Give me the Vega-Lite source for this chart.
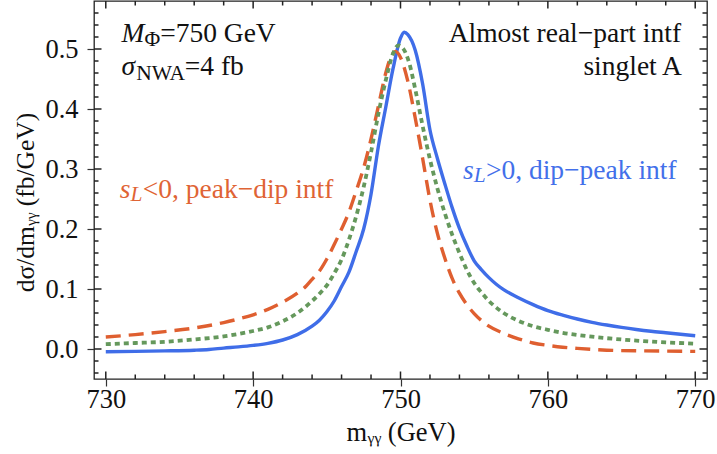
{
  "$schema": "https://vega.github.io/schema/vega-lite/v6.json",
  "width": 613,
  "height": 378,
  "autosize": {"type": "none"},
  "padding": {"left": 94, "top": 1, "right": 10, "bottom": 75},
  "background": "white",
  "config": {
    "view": {"stroke": "#222222", "strokeWidth": 1.3},
    "font": "Liberation Serif",
    "text": {"font": "Liberation Serif"}
  },
  "datasets": {
    "blue": [
      {"m":730,"v":-0.0045},{"m":732,"v":-0.004},{"m":734,"v":-0.0032},{"m":736,"v":-0.002},{"m":737,"v":-0.0008},{"m":738,"v":0.0015},{"m":739,"v":0.0035},{"m":740,"v":0.006},{"m":741,"v":0.0095},{"m":742,"v":0.015},{"m":743,"v":0.024},{"m":744,"v":0.038},{"m":744.5,"v":0.048},{"m":745,"v":0.062},{"m":745.5,"v":0.080},{"m":746,"v":0.104},{"m":746.5,"v":0.128},{"m":747,"v":0.163},{"m":747.5,"v":0.200},{"m":748,"v":0.258},{"m":748.5,"v":0.338},{"m":749,"v":0.403},{"m":749.5,"v":0.468},{"m":750,"v":0.518},{"m":750.25,"v":0.528},{"m":750.5,"v":0.524},{"m":751,"v":0.498},{"m":751.5,"v":0.442},{"m":752,"v":0.365},{"m":752.5,"v":0.318},{"m":753,"v":0.276},{"m":753.5,"v":0.236},{"m":754,"v":0.201},{"m":754.5,"v":0.172},{"m":755,"v":0.147},{"m":755.5,"v":0.132},{"m":756,"v":0.119},{"m":756.5,"v":0.108},{"m":757,"v":0.099},{"m":758,"v":0.0855},{"m":759,"v":0.074},{"m":760,"v":0.064},{"m":761,"v":0.0565},{"m":762,"v":0.050},{"m":763,"v":0.0445},{"m":764,"v":0.040},{"m":765,"v":0.036},{"m":766,"v":0.0325},{"m":767,"v":0.0295},{"m":768,"v":0.027},{"m":769,"v":0.0245},{"m":770,"v":0.022}
    ],
    "green": [
      {"m":730,"v":0.008},{"m":732,"v":0.010},{"m":734,"v":0.012},{"m":736,"v":0.016},{"m":738,"v":0.021},{"m":739,"v":0.025},{"m":740,"v":0.030},{"m":741,"v":0.036},{"m":742,"v":0.046},{"m":743,"v":0.060},{"m":744,"v":0.080},{"m":744.5,"v":0.092},{"m":745,"v":0.106},{"m":745.5,"v":0.126},{"m":746,"v":0.149},{"m":746.5,"v":0.182},{"m":747,"v":0.222},{"m":747.5,"v":0.270},{"m":748,"v":0.328},{"m":748.5,"v":0.392},{"m":749,"v":0.448},{"m":749.5,"v":0.493},{"m":749.85,"v":0.506},{"m":750.2,"v":0.500},{"m":750.6,"v":0.476},{"m":751,"v":0.433},{"m":751.5,"v":0.372},{"m":752,"v":0.316},{"m":752.5,"v":0.268},{"m":753,"v":0.227},{"m":753.5,"v":0.191},{"m":754,"v":0.160},{"m":754.5,"v":0.132},{"m":755,"v":0.110},{"m":755.5,"v":0.094},{"m":756,"v":0.080},{"m":756.5,"v":0.069},{"m":757,"v":0.060},{"m":758,"v":0.047},{"m":759,"v":0.038},{"m":760,"v":0.032},{"m":761,"v":0.027},{"m":762,"v":0.0235},{"m":763,"v":0.0205},{"m":764,"v":0.018},{"m":766,"v":0.014},{"m":768,"v":0.011},{"m":770,"v":0.009}
    ],
    "orange": [
      {"m":730,"v":0.020},{"m":732,"v":0.024},{"m":734,"v":0.029},{"m":736,"v":0.035},{"m":738,"v":0.044},{"m":739,"v":0.050},{"m":740,"v":0.057},{"m":741,"v":0.066},{"m":742,"v":0.078},{"m":743,"v":0.093},{"m":743.6,"v":0.105},{"m":744,"v":0.116},{"m":744.5,"v":0.130},{"m":745,"v":0.150},{"m":745.5,"v":0.174},{"m":746,"v":0.200},{"m":746.5,"v":0.228},{"m":747,"v":0.264},{"m":747.5,"v":0.302},{"m":748,"v":0.350},{"m":748.5,"v":0.405},{"m":749,"v":0.460},{"m":749.3,"v":0.484},{"m":749.65,"v":0.496},{"m":750,"v":0.486},{"m":750.5,"v":0.446},{"m":751,"v":0.385},{"m":751.5,"v":0.318},{"m":752,"v":0.248},{"m":752.5,"v":0.193},{"m":753,"v":0.152},{"m":753.5,"v":0.118},{"m":754,"v":0.093},{"m":754.5,"v":0.074},{"m":755,"v":0.059},{"m":756,"v":0.038},{"m":757,"v":0.026},{"m":758,"v":0.017},{"m":759,"v":0.010},{"m":760,"v":0.006},{"m":761,"v":0.003},{"m":762,"v":0.001},{"m":764,"v":-0.002},{"m":766,"v":-0.003},{"m":768,"v":-0.0035},{"m":770,"v":-0.004}
    ],
    "xMajor": [{"p":730},{"p":740},{"p":750},{"p":760},{"p":770}],
    "xMinor": [{"p":732},{"p":734},{"p":736},{"p":738},{"p":742},{"p":744},{"p":746},{"p":748},{"p":752},{"p":754},{"p":756},{"p":758},{"p":762},{"p":764},{"p":766},{"p":768}],
    "yMajor": [{"p":0},{"p":0.1},{"p":0.2},{"p":0.3},{"p":0.4},{"p":0.5}],
    "yMinor": [{"p":-0.04},{"p":-0.02},{"p":0.02},{"p":0.04},{"p":0.06},{"p":0.08},{"p":0.12},{"p":0.14},{"p":0.16},{"p":0.18},{"p":0.22},{"p":0.24},{"p":0.26},{"p":0.28},{"p":0.32},{"p":0.34},{"p":0.36},{"p":0.38},{"p":0.42},{"p":0.44},{"p":0.46},{"p":0.48},{"p":0.52},{"p":0.54},{"p":0.56}],
    "annItal": [
      {"t":"M","x":731.07,"y":0.5113,"g":"k"},
      {"t":"σ","x":731.07,"y":0.4559,"g":"k"},
      {"t":"s","x":730.95,"y":0.2512,"g":"o"},
      {"t":"s","x":754.24,"y":0.284,"g":"b"}
    ],
    "annSub": [
      {"t":"Φ","x":732.63,"y":0.5058,"g":"k"},
      {"t":"NWA","x":732.06,"y":0.4476,"g":"k"}
    ],
    "annSubItal": [
      {"t":"L","x":731.68,"y":0.2463,"g":"o"},
      {"t":"L","x":754.97,"y":0.278,"g":"b"}
    ],
    "annMain": [
      {"t":"=750 GeV","x":733.69,"y":0.5113,"g":"k"},
      {"t":"=4 fb","x":735.36,"y":0.4559,"g":"k"},
      {"t":"<0, peak−dip intf","x":732.51,"y":0.2512,"g":"o"},
      {"t":">0, dip−peak intf","x":755.80,"y":0.284,"g":"b"}
    ],
    "annRight": [
      {"t":"Almost real−part intf","x":769.04,"y":0.5113,"g":"k"},
      {"t":"singlet A","x":769.10,"y":0.4559,"g":"k"}
    ]
  },
  "layer": [
    {
      "mark": {"type": "rule", "color": "#d8d8d8", "strokeWidth": 1.2},
      "encoding": {
        "y": {"datum": 0, "type": "quantitative", "scale": {"domain": [-0.05, 0.58], "nice": false, "zero": false}}
      }
    },
    {
      "data": {"name": "blue"},
      "mark": {"type": "line", "color": "#3f6de8", "strokeWidth": 3.4, "interpolate": "monotone", "clip": true},
      "encoding": {
        "x": {"field": "m", "type": "quantitative", "scale": {"domain": [729.2, 770.8], "nice": false, "zero": false},
          "axis": {
            "orient": "bottom", "values": [730, 740, 750, 760, 770],
            "ticks": true, "tickSize": 7, "tickColor": "#333333", "tickWidth": 1.2,
            "domain": false, "grid": false,
            "format": "d", "labelOverlap": false, "labelFlush": false,
            "labelFont": "Liberation Serif", "labelFontSize": 26.5, "labelColor": "#111111", "labelPadding": 0.5,
            "title": "mᵧᵧ (GeV)", "titleFont": "Liberation Serif", "titleFontSize": 26.5, "titleFontWeight": "normal", "titleColor": "#111111", "titlePadding": 6
          }},
        "y": {"field": "v", "type": "quantitative", "scale": {"domain": [-0.05, 0.58], "nice": false, "zero": false},
          "axis": {
            "orient": "left", "values": [0, 0.1, 0.2, 0.3, 0.4, 0.5],
            "ticks": true, "tickSize": 7, "tickColor": "#333333", "tickWidth": 1.2,
            "domain": false, "grid": false,
            "format": ".1f", "labelOverlap": false, "labelFlush": false,
            "labelFont": "Liberation Serif", "labelFontSize": 26.5, "labelColor": "#111111", "labelPadding": 9,
            "title": "dσ/dmᵧᵧ (fb/GeV)", "titleFont": "Liberation Serif", "titleFontSize": 25.5, "titleFontWeight": "normal", "titleColor": "#111111", "titlePadding": 6, "titleY": 201
          }}
      }
    },
    {
      "data": {"name": "orange"},
      "mark": {"type": "line", "color": "#df5f30", "strokeWidth": 3.4, "strokeDash": [15, 8], "interpolate": "monotone", "clip": true},
      "encoding": {
        "x": {"field": "m", "type": "quantitative"},
        "y": {"field": "v", "type": "quantitative"}
      }
    },
    {
      "data": {"name": "green"},
      "mark": {"type": "line", "color": "#65985c", "strokeWidth": 3.8, "strokeDash": [5, 4], "interpolate": "monotone", "clip": true},
      "encoding": {
        "x": {"field": "m", "type": "quantitative"},
        "y": {"field": "v", "type": "quantitative"}
      }
    },
    {
      "data": {"name": "xMajor"},
      "mark": {"type": "tick", "orient": "vertical", "color": "#222222", "thickness": 1.5, "size": 15, "clip": true, "opacity": 1},
      "encoding": {"x": {"field": "p", "type": "quantitative"}, "y": {"datum": -0.05, "type": "quantitative"}}
    },
    {
      "data": {"name": "xMinor"},
      "mark": {"type": "tick", "orient": "vertical", "color": "#222222", "thickness": 1.5, "size": 9, "clip": true, "opacity": 1},
      "encoding": {"x": {"field": "p", "type": "quantitative"}, "y": {"datum": -0.05, "type": "quantitative"}}
    },
    {
      "data": {"name": "xMajor"},
      "mark": {"type": "tick", "orient": "vertical", "color": "#222222", "thickness": 1.5, "size": 15, "clip": true, "opacity": 1},
      "encoding": {"x": {"field": "p", "type": "quantitative"}, "y": {"datum": 0.58, "type": "quantitative"}}
    },
    {
      "data": {"name": "xMinor"},
      "mark": {"type": "tick", "orient": "vertical", "color": "#222222", "thickness": 1.5, "size": 9, "clip": true, "opacity": 1},
      "encoding": {"x": {"field": "p", "type": "quantitative"}, "y": {"datum": 0.58, "type": "quantitative"}}
    },
    {
      "data": {"name": "yMajor"},
      "mark": {"type": "tick", "orient": "horizontal", "color": "#222222", "thickness": 1.5, "size": 15, "clip": true, "opacity": 1},
      "encoding": {"y": {"field": "p", "type": "quantitative"}, "x": {"datum": 729.2, "type": "quantitative"}}
    },
    {
      "data": {"name": "yMinor"},
      "mark": {"type": "tick", "orient": "horizontal", "color": "#222222", "thickness": 1.5, "size": 9, "clip": true, "opacity": 1},
      "encoding": {"y": {"field": "p", "type": "quantitative"}, "x": {"datum": 729.2, "type": "quantitative"}}
    },
    {
      "data": {"name": "yMajor"},
      "mark": {"type": "tick", "orient": "horizontal", "color": "#222222", "thickness": 1.5, "size": 15, "clip": true, "opacity": 1},
      "encoding": {"y": {"field": "p", "type": "quantitative"}, "x": {"datum": 770.8, "type": "quantitative"}}
    },
    {
      "data": {"name": "yMinor"},
      "mark": {"type": "tick", "orient": "horizontal", "color": "#222222", "thickness": 1.5, "size": 9, "clip": true, "opacity": 1},
      "encoding": {"y": {"field": "p", "type": "quantitative"}, "x": {"datum": 770.8, "type": "quantitative"}}
    },
    {
      "data": {"name": "annMain"},
      "mark": {"type": "text", "align": "left", "baseline": "alphabetic", "fontSize": 27.5, "font": "Liberation Serif"},
      "encoding": {
        "x": {"field": "x", "type": "quantitative"},
        "y": {"field": "y", "type": "quantitative"},
        "text": {"field": "t"},
        "color": {"field": "g", "type": "nominal", "scale": {"domain": ["k","o","b"], "range": ["#111111","#df6435","#4370ea"]}, "legend": null}
      }
    },
    {
      "data": {"name": "annItal"},
      "mark": {"type": "text", "align": "left", "baseline": "alphabetic", "fontSize": 27.5, "fontStyle": "italic", "font": "Liberation Serif"},
      "encoding": {
        "x": {"field": "x", "type": "quantitative"},
        "y": {"field": "y", "type": "quantitative"},
        "text": {"field": "t"},
        "color": {"field": "g", "type": "nominal", "legend": null}
      }
    },
    {
      "data": {"name": "annSub"},
      "mark": {"type": "text", "align": "left", "baseline": "alphabetic", "fontSize": 21.5, "font": "Liberation Serif"},
      "encoding": {
        "x": {"field": "x", "type": "quantitative"},
        "y": {"field": "y", "type": "quantitative"},
        "text": {"field": "t"},
        "color": {"field": "g", "type": "nominal", "legend": null}
      }
    },
    {
      "data": {"name": "annSubItal"},
      "mark": {"type": "text", "align": "left", "baseline": "alphabetic", "fontSize": 21.5, "fontStyle": "italic", "font": "Liberation Serif"},
      "encoding": {
        "x": {"field": "x", "type": "quantitative"},
        "y": {"field": "y", "type": "quantitative"},
        "text": {"field": "t"},
        "color": {"field": "g", "type": "nominal", "legend": null}
      }
    },
    {
      "data": {"name": "annRight"},
      "mark": {"type": "text", "align": "right", "baseline": "alphabetic", "fontSize": 27.5, "font": "Liberation Serif"},
      "encoding": {
        "x": {"field": "x", "type": "quantitative"},
        "y": {"field": "y", "type": "quantitative"},
        "text": {"field": "t"},
        "color": {"field": "g", "type": "nominal", "legend": null}
      }
    }
  ]
}
